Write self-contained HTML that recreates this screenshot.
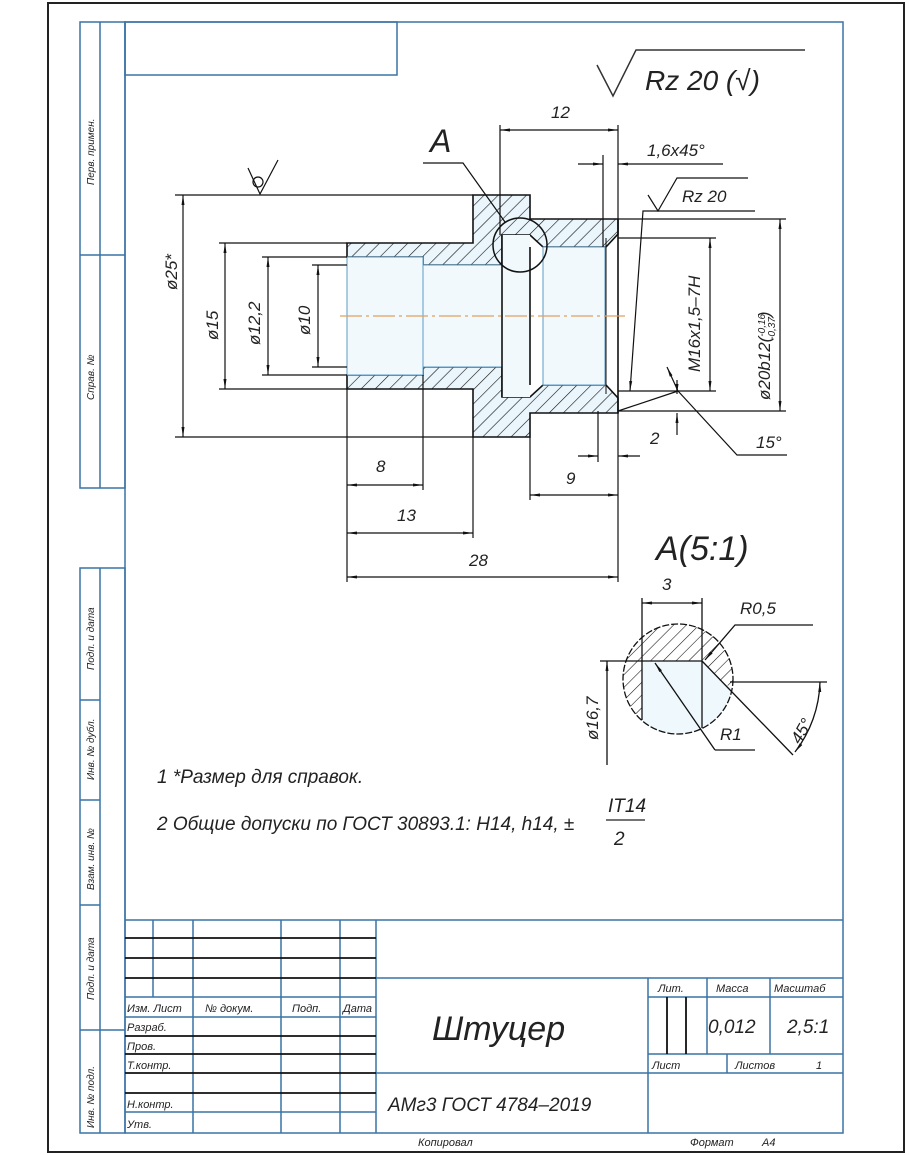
<!DOCTYPE html>
<html><head><meta charset="utf-8"><style>
html,body{margin:0;padding:0;background:#fff}
svg{display:block}
text{font-family:"Liberation Sans",sans-serif;font-style:italic;fill:#222}
</style></head><body>
<svg width="910" height="1155" viewBox="0 0 910 1155" xmlns="http://www.w3.org/2000/svg">
<defs>
<pattern id="h" patternUnits="userSpaceOnUse" width="10" height="10" patternTransform="rotate(45)">
<rect width="10" height="10" fill="#eaf6fc"/><line x1="0" y1="0" x2="0" y2="10" stroke="#111" stroke-width="1.2"/>
</pattern>
<pattern id="h2" patternUnits="userSpaceOnUse" width="9" height="9" patternTransform="rotate(45)">
<rect width="9" height="9" fill="#fff"/><line x1="0" y1="0" x2="0" y2="9" stroke="#111" stroke-width="1.1"/>
</pattern>
<marker id="a" viewBox="0 0 10 4" refX="10" refY="2" markerWidth="10" markerHeight="4" orient="auto-start-reverse" markerUnits="userSpaceOnUse"><path d="M0,0.5 L10,2 L0,3.5z" fill="#111"/></marker>
</defs>
<!-- outer dark frame -->
<rect x="48" y="3" width="856" height="1149" fill="none" stroke="#222" stroke-width="2"/>
<!-- blue frame -->
<g stroke="#3a73a6" stroke-width="1.5" fill="none">
<rect x="125" y="22" width="718" height="1111"/>
<rect x="125" y="22" width="272" height="53"/>
<rect x="80" y="22" width="45" height="466"/>
<line x1="100" y1="22" x2="100" y2="488"/>
<line x1="80" y1="255" x2="125" y2="255"/>
<rect x="80" y="568" width="45" height="565"/>
<line x1="100" y1="568" x2="100" y2="1133"/>
<line x1="80" y1="700" x2="100" y2="700"/>
<line x1="80" y1="800" x2="100" y2="800"/>
<line x1="80" y1="905" x2="100" y2="905"/>
<line x1="80" y1="1030" x2="125" y2="1030"/>
<!-- title block -->
<line x1="125" y1="920" x2="843" y2="920"/>
<line x1="153" y1="920" x2="153" y2="997"/>
<line x1="193" y1="920" x2="193" y2="1133"/>
<line x1="281" y1="920" x2="281" y2="1133"/>
<line x1="340" y1="920" x2="340" y2="1133"/>
<line x1="376" y1="920" x2="376" y2="1133"/>
<line x1="376" y1="978" x2="843" y2="978"/>
<line x1="648" y1="978" x2="648" y2="1133"/>
<line x1="376" y1="1073" x2="843" y2="1073"/>
<line x1="707" y1="978" x2="707" y2="1054"/>
<line x1="770" y1="978" x2="770" y2="1054"/>
<line x1="648" y1="997" x2="843" y2="997"/>
<line x1="648" y1="1054" x2="843" y2="1054"/>
<line x1="727" y1="1054" x2="727" y2="1073"/>
<line x1="125" y1="997" x2="376" y2="997"/>
<line x1="125" y1="1017" x2="376" y2="1017"/>
<line x1="125" y1="1112" x2="376" y2="1112"/>
</g>
<g stroke="#111" stroke-width="1.8">
<line x1="125" y1="938" x2="376" y2="938"/>
<line x1="125" y1="958" x2="376" y2="958"/>
<line x1="125" y1="978" x2="376" y2="978"/>
<line x1="125" y1="1036" x2="376" y2="1036"/>
<line x1="125" y1="1054" x2="376" y2="1054"/>
<line x1="125" y1="1073" x2="376" y2="1073"/>
<line x1="125" y1="1093" x2="376" y2="1093"/>
<line x1="667" y1="997" x2="667" y2="1054"/>
<line x1="686" y1="997" x2="686" y2="1054"/>
</g>
<g font-size="11">
<text x="127" y="1012">Изм. Лист</text><text x="205" y="1012">№ докум.</text><text x="292" y="1012">Подп.</text><text x="343" y="1012">Дата</text>
<text x="127" y="1031">Разраб.</text><text x="127" y="1050">Пров.</text><text x="127" y="1069">Т.контр.</text>
<text x="127" y="1108">Н.контр.</text><text x="127" y="1128">Утв.</text>
<text x="658" y="992">Лит.</text><text x="716" y="992">Масса</text><text x="774" y="992">Масштаб</text>
<text x="652" y="1069">Лист</text><text x="735" y="1069">Листов</text><text x="816" y="1069">1</text>
<text x="418" y="1146">Копировал</text><text x="690" y="1146">Формат</text><text x="762" y="1146">A4</text>
</g>
<text x="708" y="1033" font-size="19">0,012</text>
<text x="787" y="1033" font-size="19">2,5:1</text>
<text x="432" y="1040" font-size="34">Штуцер</text>
<text x="388" y="1111" font-size="19">АМг3 ГОСТ 4784–2019</text>
<g font-size="10">
<text transform="translate(94,185) rotate(-90)">Перв. примен.</text>
<text transform="translate(94,400) rotate(-90)">Справ. №</text>
<text transform="translate(94,670) rotate(-90)">Подп. и дата</text>
<text transform="translate(94,780) rotate(-90)">Инв. № дубл.</text>
<text transform="translate(94,890) rotate(-90)">Взам. инв. №</text>
<text transform="translate(94,1000) rotate(-90)">Подп. и дата</text>
<text transform="translate(94,1128) rotate(-90)">Инв. № подл.</text>
</g>
<!-- top roughness -->
<polyline points="597,65 613,96 636,50 805,50" fill="none" stroke="#333" stroke-width="1.5"/>
<text x="645" y="90" font-size="28">Rz 20 (√)</text>
<!-- part section -->
<g stroke="#111" stroke-width="1.6">
<path d="M347,243 L473,243 L473,195 L530,195 L530,219 L618,219 L618,234 L606,247 L543,247 L530,235 L502,235 L502,265 L423,265 L423,257 L347,257Z" fill="url(#h)"/>
<path d="M347,389 L473,389 L473,437 L530,437 L530,413 L618,413 L618,398 L606,385 L543,385 L530,397 L502,397 L502,367 L423,367 L423,375 L347,375Z" fill="url(#h)"/>
<rect x="347" y="257" width="76" height="118" fill="#f1f9fd" stroke="#5b9bc5" stroke-width="1"/>
<rect x="423" y="265" width="79" height="102" fill="#f1f9fd" stroke="#5b9bc5" stroke-width="1"/>
<rect x="502" y="235" width="28" height="162" fill="#f1f9fd" stroke="none"/>
<rect x="543" y="247" width="62" height="138" fill="#f1f9fd" stroke="#5b9bc5" stroke-width="1"/>
<line x1="530" y1="247" x2="530" y2="385"/>
<line x1="502" y1="235" x2="502" y2="397"/>
<line x1="606" y1="238" x2="606" y2="394" stroke-width="1"/>
<line x1="618" y1="219" x2="618" y2="413"/>
</g>
<line x1="340" y1="316" x2="625" y2="316" stroke="#e0a060" stroke-width="1.2" stroke-dasharray="22,4,3,4"/>
<circle cx="520" cy="245" r="27" fill="none" stroke="#111" stroke-width="1.5"/>
<g stroke="#111" stroke-width="1.2" fill="none">
<!-- extension lines -->
<line x1="175" y1="195" x2="473" y2="195"/><line x1="175" y1="437" x2="473" y2="437"/>
<line x1="219" y1="243" x2="347" y2="243"/><line x1="219" y1="389" x2="347" y2="389"/>
<line x1="262" y1="257" x2="347" y2="257"/><line x1="262" y1="375" x2="347" y2="375"/>
<line x1="312" y1="265" x2="347" y2="265"/><line x1="312" y1="367" x2="347" y2="367"/>
<line x1="347" y1="389" x2="347" y2="582"/><line x1="423" y1="375" x2="423" y2="490"/>
<line x1="473" y1="437" x2="473" y2="538"/><line x1="618" y1="413" x2="618" y2="582"/>
<line x1="530" y1="437" x2="530" y2="500"/>
<line x1="500" y1="125" x2="500" y2="235"/><line x1="618" y1="125" x2="618" y2="219"/>
<line x1="603" y1="155" x2="603" y2="247"/>
<line x1="618" y1="238" x2="716" y2="238"/><line x1="618" y1="391" x2="716" y2="391"/>
<line x1="618" y1="219" x2="786" y2="219"/><line x1="618" y1="411" x2="786" y2="411"/>
<line x1="598" y1="411" x2="598" y2="462"/>
<!-- dims -->
<line x1="183" y1="195" x2="183" y2="437" marker-start="url(#a)" marker-end="url(#a)"/>
<line x1="225" y1="243" x2="225" y2="389" marker-start="url(#a)" marker-end="url(#a)"/>
<line x1="268" y1="257" x2="268" y2="375" marker-start="url(#a)" marker-end="url(#a)"/>
<line x1="318" y1="265" x2="318" y2="367" marker-start="url(#a)" marker-end="url(#a)"/>
<line x1="710" y1="238" x2="710" y2="391" marker-start="url(#a)" marker-end="url(#a)"/>
<line x1="780" y1="219" x2="780" y2="411" marker-start="url(#a)" marker-end="url(#a)"/>
<line x1="500" y1="130" x2="618" y2="130" marker-start="url(#a)" marker-end="url(#a)"/>
<line x1="347" y1="485" x2="423" y2="485" marker-start="url(#a)" marker-end="url(#a)"/>
<line x1="347" y1="533" x2="473" y2="533" marker-start="url(#a)" marker-end="url(#a)"/>
<line x1="347" y1="577" x2="618" y2="577" marker-start="url(#a)" marker-end="url(#a)"/>
<line x1="530" y1="495" x2="618" y2="495" marker-start="url(#a)" marker-end="url(#a)"/>
<line x1="578" y1="164" x2="603" y2="164" marker-end="url(#a)"/>
<line x1="645" y1="164" x2="618" y2="164" marker-end="url(#a)"/>
<line x1="645" y1="164" x2="723" y2="164"/>
<line x1="578" y1="456" x2="598" y2="456" marker-end="url(#a)"/>
<line x1="640" y1="456" x2="618" y2="456" marker-end="url(#a)"/>
<line x1="677" y1="380" x2="677" y2="394" marker-end="url(#a)"/>
<line x1="677" y1="435" x2="677" y2="413" marker-end="url(#a)"/>
<line x1="618" y1="411" x2="678" y2="391"/>
<!-- Rz 20 leader -->
<polyline points="755,211 643,211 630,391" marker-end="url(#a)"/>
<polyline points="648,195 658,211 677,178 748,178"/>
<!-- 15 deg leader -->
<line x1="667" y1="367" x2="678" y2="391" marker-start="url(#a)"/>
<polyline points="678,391 737,455 787,455"/>
<!-- A leader -->
<polyline points="423,163 463,163 505,222"/>
<!-- top-left roughness -->
<polyline points="248,168 260,194 278,160"/>
<circle cx="258" cy="182" r="5"/>
</g>
<g font-size="17">
<text x="551" y="118">12</text>
<text x="647" y="156">1,6x45°</text>
<text x="682" y="202">Rz 20</text>
<text x="650" y="444">2</text>
<text x="756" y="448">15°</text>
<text x="566" y="484">9</text>
<text x="376" y="472">8</text>
<text x="397" y="521">13</text>
<text x="469" y="566">28</text>
<text transform="translate(177,290) rotate(-90)">ø25*</text>
<text transform="translate(218,340) rotate(-90)">ø15</text>
<text transform="translate(260,345) rotate(-90)">ø12,2</text>
<text transform="translate(310,335) rotate(-90)">ø10</text>
<text transform="translate(700,372) rotate(-90)">M16x1,5–7H</text>
<text transform="translate(770,400) rotate(-90)">ø20b12(<tspan font-size="10" dy="-5">-0,16</tspan><tspan font-size="10" dx="-26" dy="10">-0,37</tspan><tspan dy="-5">)</tspan></text>
</g>
<text x="430" y="152" font-size="32" font-style="normal">A</text>
<text x="656" y="560" font-size="34" font-style="normal">A(5:1)</text>
<!-- detail A -->
<g stroke="#111" stroke-width="1.3">
<clipPath id="c"><circle cx="678" cy="679" r="55"/></clipPath>
<g clip-path="url(#c)">
<rect x="600" y="600" width="160" height="160" fill="#eef8fd" stroke="none"/>
<path d="M600,600 L760,600 L760,661 L600,661Z" fill="url(#h2)" stroke="none"/>
<path d="M600,661 L642,661 L642,760 L600,760Z" fill="url(#h2)" stroke="none"/>
<path d="M702,661 L760,661 L760,700 L722,683Z" fill="url(#h2)" stroke="none"/>
</g>
<circle cx="678" cy="679" r="55" fill="none" stroke-dasharray="7,2"/>
<line x1="600" y1="661" x2="702" y2="661"/>
<line x1="642" y1="598" x2="642" y2="720"/>
<line x1="702" y1="598" x2="702" y2="728"/>
<line x1="702" y1="661" x2="793" y2="755"/>
<line x1="730" y1="682" x2="827" y2="682"/>
<line x1="642" y1="603" x2="702" y2="603" marker-start="url(#a)" marker-end="url(#a)"/>
<line x1="607" y1="661" x2="607" y2="765" marker-start="url(#a)"/>
<polyline points="715,750 655,663" fill="none" marker-end="url(#a)"/>
<line x1="715" y1="750" x2="755" y2="750"/>
<polyline points="813,625 735,625 705,660" fill="none" marker-end="url(#a)"/>
<path d="M820,682 A120,120 0 0 1 795,752" fill="none" marker-start="url(#a)" marker-end="url(#a)"/>
</g>
<g font-size="17">
<text x="662" y="590">3</text>
<text x="740" y="614">R0,5</text>
<text x="720" y="740">R1</text>
<text transform="translate(800,745) rotate(-60)">45°</text>
<text transform="translate(598,740) rotate(-90)">ø16,7</text>
</g>
<!-- notes -->
<g font-size="19">
<text x="157" y="783">1  *Размер для справок.</text>
<text x="157" y="830">2  Общие допуски по ГОСТ 30893.1: H14, h14, ±</text>
<text x="608" y="812">IT14</text>
<text x="614" y="845">2</text>
</g>
<line x1="606" y1="820" x2="645" y2="820" stroke="#222" stroke-width="1.2"/>
</svg>
</body></html>
